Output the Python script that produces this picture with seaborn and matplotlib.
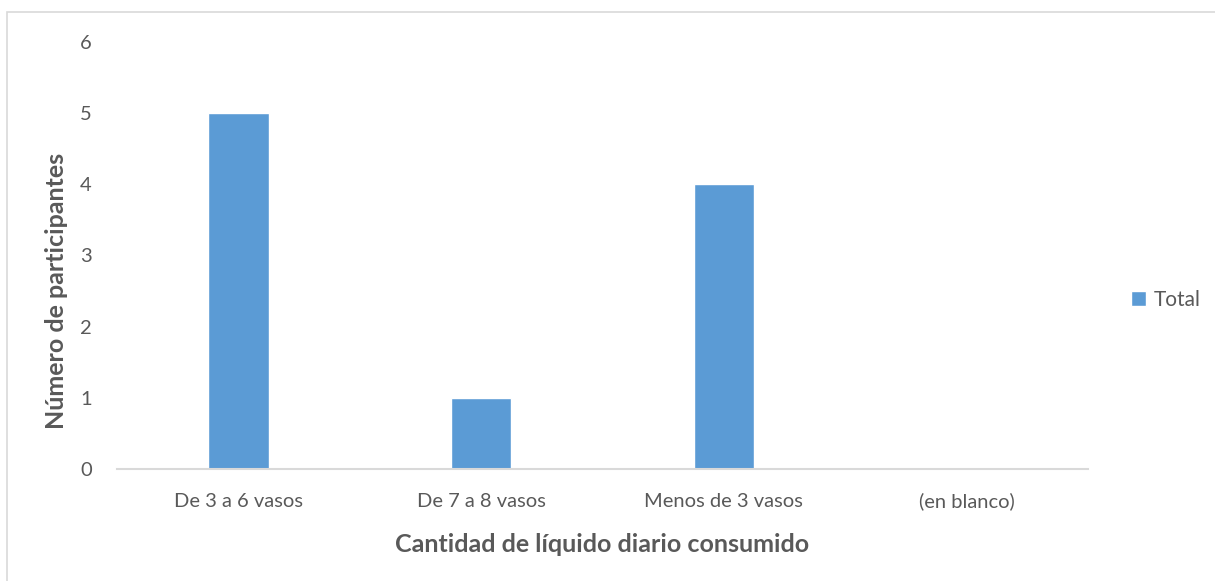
import matplotlib
matplotlib.use('Agg')
import matplotlib.pyplot as plt
import seaborn as sns
import pandas as pd
from matplotlib.patches import Rectangle

categories = ['De 3 a 6 vasos', 'De 7 a 8 vasos', 'Menos de 3 vasos', '(en blanco)']
totals = [5, 1, 4, 0]
y_ticks = [0, 1, 2, 3, 4, 5, 6]

df = pd.DataFrame({'categoria': categories, 'Total': totals})

sns.set_theme(style='white')
plt.rcParams['font.family'] = ['Lato', 'DejaVu Sans']

text_color = '#595959'
bar_color = '#5B9BD5'

fig = plt.figure(figsize=(12.15, 5.81), dpi=100)
ax = fig.add_axes([0.0963, 0.1928, 0.7992, 0.7349])

sns.barplot(data=df, x='categoria', y='Total', color=bar_color, width=0.25,
            ax=ax, label='Total', saturation=1)

ax.set_ylim(0, 6)
ax.set_yticks(y_ticks)
ax.set_xlim(-0.5, 3.5)
ax.tick_params(axis='both', length=0, labelsize=14.5, colors=text_color)
ax.tick_params(axis='y', pad=18)
ax.tick_params(axis='x', pad=17)

for s in ['top', 'right', 'left']:
    ax.spines[s].set_visible(False)
ax.spines['bottom'].set_color('#D9D9D9')
ax.spines['bottom'].set_linewidth(1.5)

ax.set_xlabel('Cantidad de líquido diario consumido', fontsize=18, fontweight='bold',
              color=text_color, labelpad=16)
ax.set_ylabel('Número de participantes', fontsize=18, fontweight='bold',
              color=text_color)
ax.yaxis.set_label_coords(-0.05, 0.417)

leg = ax.legend(loc='center left', bbox_to_anchor=(1.025, 0.396), frameon=False,
                fontsize=15, handlelength=0.7, handleheight=0.7, handletextpad=0.4)
for t in leg.get_texts():
    t.set_color(text_color)

# chart border (top and left visible)
fig.add_artist(Rectangle((7 / 1215, -0.1), 1.2, (581 - 12) / 581 + 0.1,
                         transform=fig.transFigure, fill=False,
                         edgecolor='#D9D9D9', linewidth=1.2))

fig.savefig('out.png', dpi=100, facecolor='white')
